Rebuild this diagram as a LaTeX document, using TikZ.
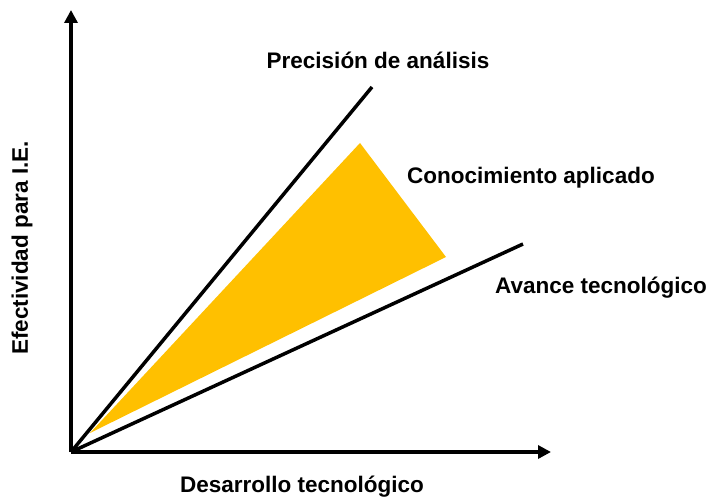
\documentclass[tikz,border=0pt]{standalone}
\usepackage{fontspec}
\setmainfont{Liberation Sans}
\usetikzlibrary{positioning}
\usetikzlibrary{arrows.meta}

\tikzset{
  axis/.style = {line width=3.5pt, -{Triangle[width=13pt,length=13pt]}},
  trend/.style = {line width=3.5pt},
  lbl/.style = {font=\bfseries\fontsize{22.5}{26}\selectfont, inner sep=0pt}
}

\begin{document}
\begin{tikzpicture}[x=1pt,y=1pt]
		\useasboundingbox (0,0) rectangle (710,499);
		% ejes
		\coordinate (o) at (71,47);
		\coordinate (ytop) at (71,489);
		\coordinate (xend) at (551,47);
		% rectas
		\coordinate (prec) at (372,412);
		\coordinate (avan) at (523,255);
		% zona amarilla
		\fill[fill = {rgb,255:red,255;green,192;blue,0}] (90,66) coordinate (c0) -- (360,356) coordinate (c1) -- (446,242) coordinate (c2) -- cycle;
		\draw[axis] (o) -- (ytop);
		\draw[axis] (o) -- (xend);
		\draw[trend] (o) -- (prec);
		\draw[trend] (o) -- (avan);
		\node[lbl] at (378,439) (lprec) {Precisión de análisis};
		\node[lbl] at (531,321) (lcon) {Conocimiento aplicado};
		\node[lbl] at (601,211) (lavan) {Avance tecnológico};
		\node[lbl] at (302,12) (ldes) {Desarrollo tecnológico};
		\node[lbl, rotate=90] at (22,251) (lef) {Efectividad para I.E.};
	\end{tikzpicture}
\end{document}
